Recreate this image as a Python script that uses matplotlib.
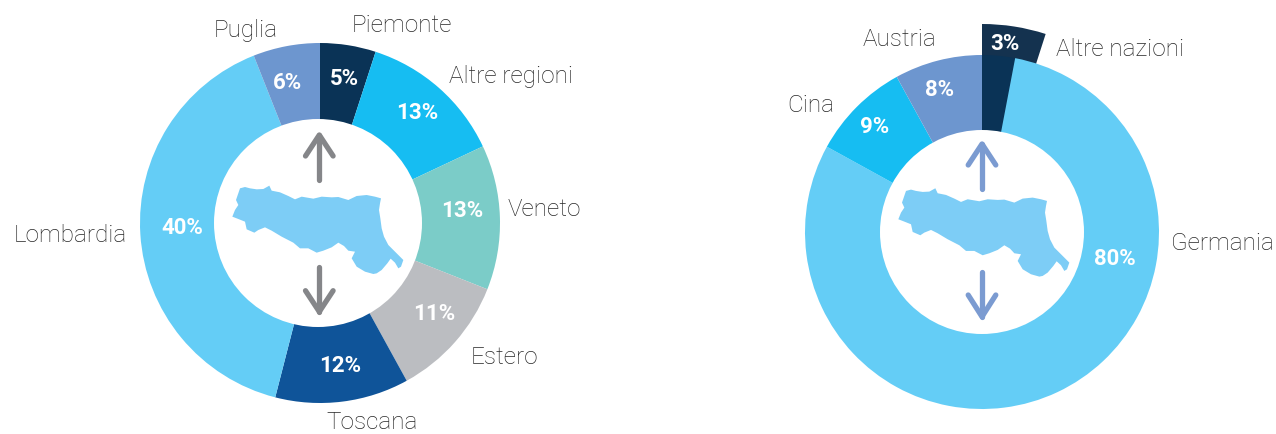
#!/usr/bin/env python3

import matplotlib
matplotlib.use("Agg")
import matplotlib.pyplot as plt
from matplotlib.patches import Circle, Polygon

plt.rcParams["font.family"] = ["Roboto", "DejaVu Sans"]

# Provenienza (left ring), clockwise from the top
left_names = ["Piemonte", "Altre regioni", "Veneto", "Estero", "Toscana", "Lombardia", "Puglia"]
left_values = [5, 13, 13, 11, 12, 40, 6]

# Destinazione (right ring), clockwise from the top
right_names = ["Altre nazioni", "Germania", "Cina", "Austria"]
right_values = [3, 80, 9, 8]

# colours
DARK = "#0a3356"
DARK_TOP = "#14324f"
CYAN = "#16bdf2"
TEAL = "#7bccc8"
GREY = "#bbbdc1"
BLUE = "#0f5499"
SKY = "#64cdf6"
PERI = "#6d96cf"
MAP = "#7dcdf6"
left_colors = [DARK, CYAN, TEAL, GREY, BLUE, SKY, PERI]
right_colors = [DARK, SKY, CYAN, PERI]

# text positions in image pixels (x, y from top)
left_name_pos = [(402, 26), (511, 76), (544, 210), (504, 357), (372, 422.5), (70, 235), (246, 30)]
left_pct_pos = [(344, 79), (417, 113), (462, 211), (434, 314), (340, 366), (182, 228), (288, 83)]
right_name_pos = [(1120, 50), (1222, 244), (811, 106), (899, 40)]
right_pct_pos = [(1005, 44), (1115, 259), (875, 127), (940, 90)]

# Emilia-Romagna outline, traced in pixels
region = [(120, 205), (135, 201), (150, 205), (170, 208), (190, 207), (208, 197), (215, 212),
          (240, 217), (265, 228), (285, 238), (305, 230), (340, 236), (365, 230), (395, 232),
          (415, 231), (445, 240), (470, 228), (500, 225), (525, 230), (543, 235), (540, 250),
          (537, 270), (541, 295), (545, 325), (552, 350), (565, 375), (585, 395), (610, 420),
          (603, 440), (595, 445), (585, 428), (572, 416), (562, 430), (545, 450), (530, 460),
          (520, 462), (495, 455), (470, 440), (455, 415), (465, 395), (445, 392), (432, 378),
          (415, 368), (395, 382), (370, 392), (350, 398), (325, 385), (300, 385), (280, 368),
          (245, 350), (215, 332), (195, 322), (175, 330), (163, 338), (140, 328), (135, 305),
          (115, 297), (97, 290), (105, 270), (115, 255), (108, 240)]

H = 434


def flip(y):
    return H - y


fig = plt.figure(figsize=(12.76, 4.34), dpi=100)
ax = fig.add_axes([0, 0, 1, 1])


def ring(values, colors, center, radius, hole, hole_r, names, name_pos, pct_pos):
    ax.pie(values, colors=colors, startangle=90, counterclock=False, radius=radius,
           center=(center[0], flip(center[1])), frame=True,
           wedgeprops=dict(linewidth=0))
    ax.add_patch(Circle((hole[0], flip(hole[1])), hole_r, color="white", lw=0, zorder=2))
    for name, (x, y) in zip(names, name_pos):
        ax.text(x, flip(y), name, ha="center", va="center", fontsize=17.5,
                fontweight="light", color="#262626", zorder=5)
    for val, (x, y) in zip(values, pct_pos):
        ax.text(x, flip(y), f"{val}%", ha="center", va="center", fontsize=16,
                fontweight="bold", color="white", zorder=5)


def emilia(dx, dy):
    pts = [(200 + x / 3 + dx, flip(120 + y / 3 + dy)) for x, y in region]
    ax.add_patch(Polygon(pts, closed=True, color=MAP, lw=0, zorder=3))


def arrow(x, tail, tip, head, color):
    # shaft then the two barbs, round ends like the original
    ax.plot([x, x], [flip(tail), flip(tip)], color=color, lw=3.8,
            solid_capstyle="round", zorder=4)
    ax.plot([x - 13.8, x, x + 13.8], [flip(head), flip(tip), flip(head)], color=color, lw=3.8,
            solid_capstyle="round", solid_joinstyle="round", zorder=4)


# Altre nazioni sticks out and carries on behind Germania
overhang = right_values[0] * 1.65
ax.pie([overhang, 100 - overhang], colors=[DARK_TOP, "none"], startangle=90,
       counterclock=False, radius=208, center=(982, flip(232)), frame=True,
       wedgeprops=dict(linewidth=0))

ring(left_values, left_colors, (320, 223), 180, (318, 223), 104, left_names, left_name_pos, left_pct_pos)
ring(right_values, right_colors, (982, 232), 177, (982, 232), 102, right_names, right_name_pos, right_pct_pos)

emilia(0, 0)
emilia(666, 2.6)

arrow(319.3, 180, 135, 156, "#858689")
arrow(319.3, 266.7, 311.7, 290.7, "#858689")
arrow(982, 189, 144, 165, "#7b9bd1")
arrow(982, 271.7, 316.7, 295, "#7b9bd1")

ax.set_xlim(0, 1276)
ax.set_ylim(0, H)
ax.axis("off")

fig.savefig("out.png", dpi=100)
